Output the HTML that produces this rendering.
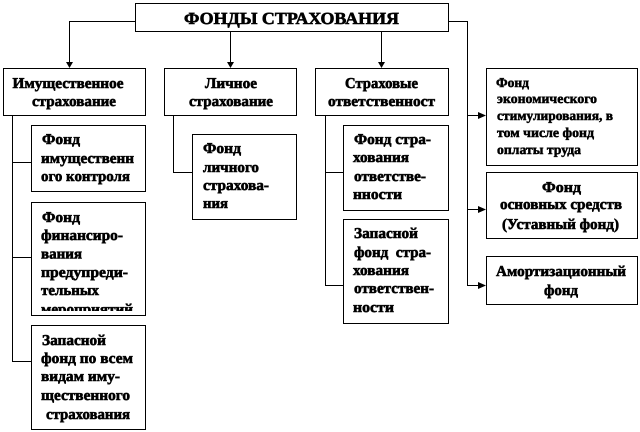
<!DOCTYPE html>
<html><head><meta charset="utf-8"><style>
html,body{margin:0;padding:0;background:#fff;width:640px;height:432px;overflow:hidden}
svg{display:block}
.b{fill:#fff;stroke:#000;stroke-width:1.2;shape-rendering:crispEdges}
.l{fill:none;stroke:#000;stroke-width:1.2;shape-rendering:crispEdges}
text{font-family:"Liberation Serif",serif;font-weight:bold;font-size:15px;fill:#000;stroke:#000;stroke-width:.6;text-rendering:geometricPrecision}
.s{font-size:13.5px;stroke-width:.5}
</style></head><body>
<svg width="640" height="432" viewBox="0 0 640 432" xmlns="http://www.w3.org/2000/svg">
<defs><clipPath id="c"><rect x="31" y="300" width="114" height="11"/></clipPath></defs>
<path class="l" d="M135.500 21.500H69.500V62M230.500 31V62M381.500 31V62M448 21.500H467.500V285.500H478M467.500 115.500H478M467.500 209.500H478"/>
<path class="l" d="M12.500 115V361.500H31M12.500 162.500H31M12.500 257.500H31M173.500 115V172.500H192M325.500 115V285.500H343M325.500 172.500H343"/>
<path d="M66 62H73L69.500 68ZM227 62H234L230.500 68ZM378 62H385L381.500 68ZM478 112L486 115.500L478 119ZM478 206L486 209.500L478 213ZM478 282L486 285.500L478 289Z" fill="#000"/>
<rect class="b" x="135.500" y="3.500" width="313" height="28"/>
<rect class="b" x="3.500" y="68.500" width="142" height="47"/>
<rect class="b" x="164.500" y="68.500" width="132" height="47"/>
<rect class="b" x="315.500" y="68.500" width="133" height="47"/>
<rect class="b" x="31.500" y="125.500" width="114" height="66"/>
<rect class="b" x="31.500" y="202.500" width="114" height="113"/>
<rect class="b" x="31.500" y="325.500" width="114" height="104"/>
<rect class="b" x="192.500" y="134.500" width="104" height="85"/>
<rect class="b" x="343.500" y="125.500" width="105" height="85"/>
<rect class="b" x="343.500" y="219.500" width="105" height="104"/>
<rect class="b" x="486.500" y="68.500" width="151" height="97"/>
<rect class="b" x="486.500" y="172.500" width="151" height="66"/>
<rect class="b" x="486.500" y="256.500" width="151" height="48"/>

<text x="184" y="24" textLength="215" lengthAdjust="spacingAndGlyphs" style="font-size:17px">ФОНДЫ СТРАХОВАНИЯ</text>

<text x="12.500" y="88" textLength="111" lengthAdjust="spacingAndGlyphs">Имущественное</text>
<text x="32" y="106" textLength="84" lengthAdjust="spacingAndGlyphs">страхование</text>
<text x="205" y="88" textLength="52" lengthAdjust="spacingAndGlyphs">Личное</text>
<text x="189" y="106" textLength="84" lengthAdjust="spacingAndGlyphs">страхование</text>
<text x="345" y="88" textLength="73" lengthAdjust="spacingAndGlyphs">Страховые</text>
<text x="328" y="106" textLength="107" lengthAdjust="spacingAndGlyphs">ответственност</text>

<text x="42" y="144" textLength="38" lengthAdjust="spacingAndGlyphs">Фонд</text>
<text x="41" y="163" textLength="93" lengthAdjust="spacingAndGlyphs">имущественн</text>
<text x="41" y="181" textLength="89" lengthAdjust="spacingAndGlyphs">ого контроля</text>

<text x="42" y="222" textLength="38" lengthAdjust="spacingAndGlyphs">Фонд</text>
<text x="41" y="240" textLength="82" lengthAdjust="spacingAndGlyphs">финансиро-</text>
<text x="41" y="258.500" textLength="41" lengthAdjust="spacingAndGlyphs">вания</text>
<text x="41" y="277" textLength="87" lengthAdjust="spacingAndGlyphs">предупреди-</text>
<text x="41" y="295" textLength="58" lengthAdjust="spacingAndGlyphs">тельных</text>
<g clip-path="url(#c)"><text x="41" y="314" textLength="92" lengthAdjust="spacingAndGlyphs">мероприятий</text></g>

<text x="42" y="345" textLength="64" lengthAdjust="spacingAndGlyphs">Запасной</text>
<text x="41" y="363" textLength="92" lengthAdjust="spacingAndGlyphs">фонд по всем</text>
<text x="41" y="381" textLength="79" lengthAdjust="spacingAndGlyphs">видам иму-</text>
<text x="41" y="400" textLength="89" lengthAdjust="spacingAndGlyphs">щественного</text>
<text x="46" y="419" textLength="84" lengthAdjust="spacingAndGlyphs">страхования</text>

<text x="203" y="153" textLength="38" lengthAdjust="spacingAndGlyphs">Фонд</text>
<text x="203" y="172" textLength="56" lengthAdjust="spacingAndGlyphs">личного</text>
<text x="203" y="190" textLength="66" lengthAdjust="spacingAndGlyphs">страхова-</text>
<text x="203" y="208" textLength="25" lengthAdjust="spacingAndGlyphs">ния</text>

<text x="354" y="144" textLength="77" lengthAdjust="spacingAndGlyphs">Фонд стра-</text>
<text x="353" y="162" textLength="56" lengthAdjust="spacingAndGlyphs">хования</text>
<text x="354" y="181" textLength="72" lengthAdjust="spacingAndGlyphs">ответстве-</text>
<text x="353" y="199" textLength="49" lengthAdjust="spacingAndGlyphs">нности</text>

<text x="354" y="238" textLength="64" lengthAdjust="spacingAndGlyphs">Запасной</text>
<text x="354" y="257" textLength="77" lengthAdjust="spacingAndGlyphs" xml:space="preserve">фонд  стра-</text>
<text x="353" y="275" textLength="56" lengthAdjust="spacingAndGlyphs">хования</text>
<text x="354" y="293" textLength="80" lengthAdjust="spacingAndGlyphs">ответствен-</text>
<text x="353" y="312" textLength="41" lengthAdjust="spacingAndGlyphs">ности</text>

<text class="s" x="496" y="87" textLength="33" lengthAdjust="spacingAndGlyphs">Фонд</text>
<text class="s" x="497" y="103" textLength="100" lengthAdjust="spacingAndGlyphs">экономического</text>
<text class="s" x="497" y="120" textLength="116" lengthAdjust="spacingAndGlyphs">стимулирования, в</text>
<text class="s" x="497" y="137" textLength="97" lengthAdjust="spacingAndGlyphs">том числе фонд</text>
<text class="s" x="497" y="154" textLength="84" lengthAdjust="spacingAndGlyphs">оплаты труда</text>

<text x="542" y="192" textLength="39" lengthAdjust="spacingAndGlyphs">Фонд</text>
<text x="500" y="209" textLength="122" lengthAdjust="spacingAndGlyphs">основных средств</text>
<text x="502" y="229" textLength="117" lengthAdjust="spacingAndGlyphs">(Уставный фонд)</text>

<text x="496" y="276" textLength="130" lengthAdjust="spacingAndGlyphs">Амортизационный</text>
<text x="544" y="295" textLength="34" lengthAdjust="spacingAndGlyphs">фонд</text>
</svg>
</body></html>
